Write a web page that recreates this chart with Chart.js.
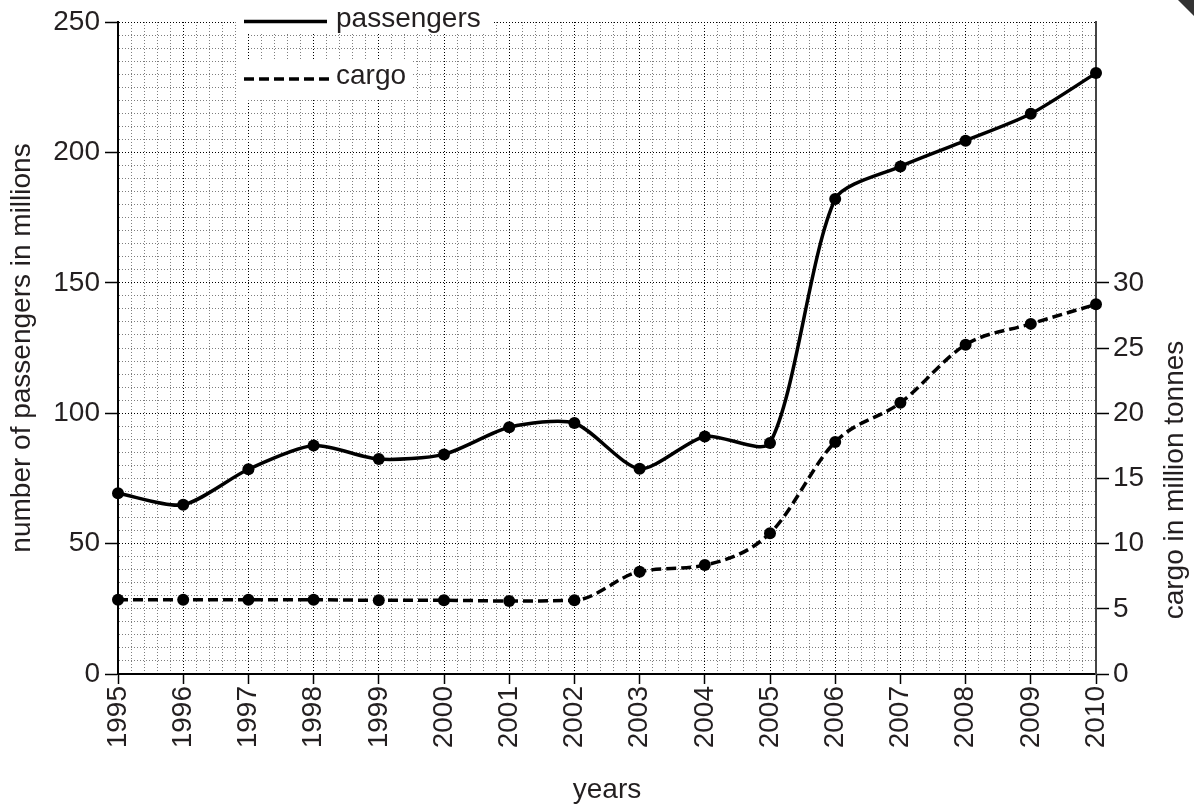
<!DOCTYPE html>
<html><head><meta charset="utf-8">
<script src="https://cdn.jsdelivr.net/npm/chart.js@4"></script>
<style>html,body{margin:0;padding:0;background:#fff}canvas{display:block}</style>
</head><body>
<canvas id="c" width="1194" height="811"></canvas>
<script>
// ---- data ----
const years = [1995,1996,1997,1998,1999,2000,2001,2002,2003,2004,2005,2006,2007,2008,2009,2010];
const passengers = [69.3,64.9,78.5,87.6,82.4,84.2,94.6,96.2,78.7,91.1,88.6,182.1,194.6,204.5,214.8,230.4];
const cargo = [5.7,5.7,5.7,5.7,5.65,5.65,5.6,5.65,7.85,8.35,10.8,17.8,20.8,25.25,26.85,28.35];
const yLeftTicks = [0,50,100,150,200,250];
const yRightTicks = [0,5,10,15,20,25,30];
const seriesNames = ['passengers','cargo'];
const axisTitles = {x:'years', y:'number of passengers in millions', y2:'cargo in million tonnes'};

const FONT = "'Liberation Sans', Arial, Helvetica, sans-serif";
const FS = 28;
const TXT = '#231f20';
const isInt = v => Math.abs(v - Math.round(v)) < 1e-6;
const MAJOR = '#000', MINOR = '#7e7e7e', CLEAR = 'rgba(0,0,0,0)';

const decorPlugin = {
  id: 'decor',
  beforeDatasetsDraw(chart) {
    const ctx = chart.ctx;
    ctx.save();
    ctx.fillStyle = '#fff';
    ctx.fillRect(236, 0, 256, 34);
    ctx.fillRect(236, 34, 11, 76);
    ctx.fillRect(236, 60, 177, 40);
    ctx.strokeStyle = '#000';
    ctx.lineWidth = 3.5;
    ctx.beginPath(); ctx.moveTo(244, 21.5); ctx.lineTo(327, 21.5); ctx.stroke();
    ctx.setLineDash([10,5]);
    ctx.beginPath(); ctx.moveTo(244, 79); ctx.lineTo(332, 79); ctx.stroke();
    ctx.setLineDash([]);
    ctx.fillStyle = TXT;
    ctx.font = FS + 'px ' + FONT;
    ctx.textBaseline = 'alphabetic';
    ctx.textAlign = 'left';
    ctx.fillText(seriesNames[0], 336, 27);
    ctx.fillText(seriesNames[1], 336, 84);
    ctx.restore();
  },
  afterDraw(chart) {
    const ctx = chart.ctx;
    ctx.save();
    ctx.translate(1175, 480);
    ctx.rotate(-Math.PI/2);
    ctx.fillStyle = TXT;
    ctx.font = FS + 'px ' + FONT;
    ctx.textAlign = 'center';
    ctx.textBaseline = 'middle';
    ctx.fillText(axisTitles.y2, 0, 0);
    ctx.restore();
    ctx.save();
    ctx.fillStyle = '#333';
    ctx.beginPath(); ctx.moveTo(1178,0); ctx.lineTo(1194,0); ctx.lineTo(1194,16); ctx.closePath(); ctx.fill();
    ctx.restore();
  }
};

new Chart(document.getElementById('c'), {
  type: 'line',
  data: {
    datasets: [
      { label: seriesNames[0], data: years.map((x,i)=>({x, y: passengers[i]})), yAxisID: 'y',
        borderColor:'#000', backgroundColor:'#000', borderWidth:3.5, tension:0.25,
        pointRadius:6, pointBackgroundColor:'#000', pointBorderWidth:0, clip:false },
      { label: seriesNames[1], data: years.map((x,i)=>({x, y: cargo[i]})), yAxisID: 'y2',
        borderColor:'#000', backgroundColor:'#000', borderWidth:3.5, borderDash:[10,5],
        cubicInterpolationMode:'monotone',
        pointRadius:6, pointBackgroundColor:'#000', pointBorderWidth:0, clip:false }
    ]
  },
  options: {
    responsive:false, animation:false, devicePixelRatio:1,
    layout:{padding:{top:22,left:0,right:0,bottom:0}},
    plugins:{legend:{display:false}, tooltip:{enabled:false}},
    scales:{
      x:{ type:'linear', position:'bottom', min:years[0], max:years[years.length-1],
        afterFit(s){ s.height = 137; },
        ticks:{ stepSize:0.2, autoSkip:false, minRotation:90, maxRotation:90, padding:2,
          color:TXT, font:{family:FONT, size:FS},
          callback(v){ return isInt(v) && years.includes(Math.round(v)) ? String(Math.round(v)) : ''; } },
        grid:{ color: c => (c.tick && isInt(c.tick.value)) ? MAJOR : MINOR, lineWidth:1,
          tickLength:10, tickWidth:1.5, tickBorderDash:[],
          tickColor: c => (c.tick && isInt(c.tick.value)) ? '#000' : CLEAR },
        border:{ display:true, color:'#000', width:2, dash:[1,2] },
        title:{ display:true, text:axisTitles.x, color:TXT, font:{family:FONT, size:FS}, padding:{top:0,bottom:4} }
      },
      y:{ type:'linear', position:'left', min:0, max:250,
        afterFit(s){ s.width = 118; },
        ticks:{ stepSize:5, autoSkip:false, padding:5, color:TXT, font:{family:FONT, size:FS},
          callback(v){ return yLeftTicks.includes(v) ? String(v) : ''; } },
        grid:{ color: c => (c.tick && yLeftTicks.includes(Math.round(c.tick.value))) ? MAJOR : MINOR, lineWidth:1,
          tickLength:13, tickWidth:1.5, tickBorderDash:[],
          tickColor: c => (c.tick && yLeftTicks.includes(Math.round(c.tick.value))) ? '#000' : CLEAR },
        border:{ display:true, color:'#000', width:2, dash:[1,2] },
        title:{ display:true, text:axisTitles.y, color:TXT, font:{family:FONT, size:FS}, padding:{top:5,bottom:0} }
      },
      y2:{ type:'linear', position:'right', min:0, max:50,
        afterFit(s){ s.width = 98; },
        ticks:{ stepSize:5, autoSkip:false, padding:4, color:TXT, font:{family:FONT, size:FS},
          callback(v){ return yRightTicks.includes(v) ? String(v) : ''; } },
        grid:{ drawOnChartArea:false, tickLength:13, tickWidth:1.5,
          tickColor: c => (c.tick && yRightTicks.includes(Math.round(c.tick.value))) ? '#000' : CLEAR },
        border:{ display:true, color:'#444', width:2 },
        title:{ display:false }
      }
    }
  },
  plugins:[decorPlugin]
});
</script>
</body></html>
